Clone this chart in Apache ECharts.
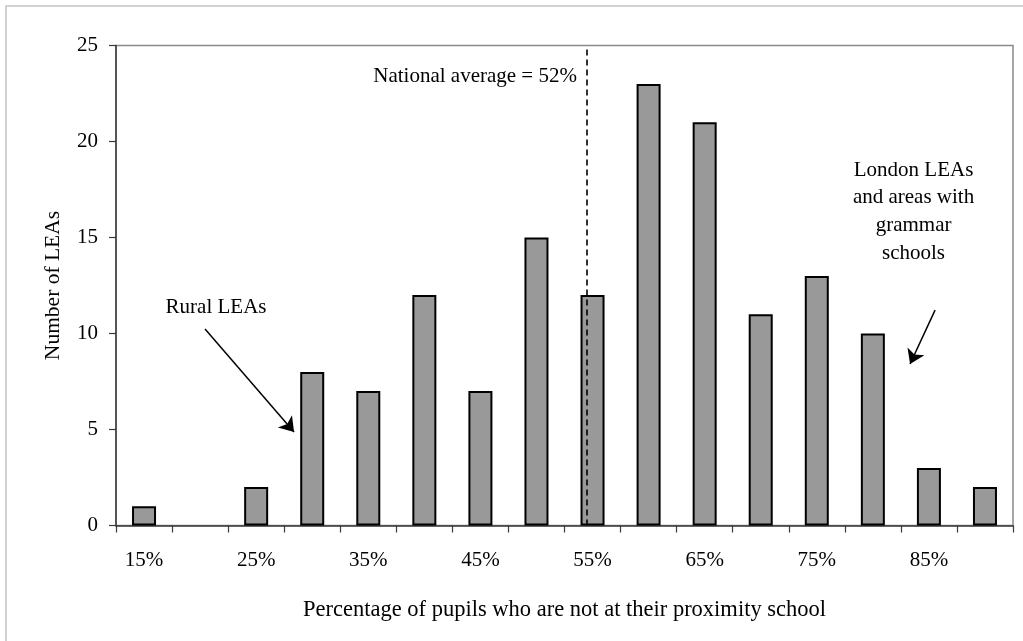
<!DOCTYPE html>
<html>
<head>
<meta charset="utf-8">
<script src="https://cdn.jsdelivr.net/npm/echarts@6/dist/echarts.min.js"></script>
<style>
  html, body { margin: 0; padding: 0; background: #fff; }
  #chart { width: 1023px; height: 641px; }
</style>
</head>
<body>
<div id="chart"></div>
<script>
// Bins of the share of pupils not at their proximity school (upper edge of each 5% bin)
const categories = ['15%', '20%', '25%', '30%', '35%', '40%', '45%', '50%',
                    '55%', '60%', '65%', '70%', '75%', '80%', '85%', '90%'];
// Number of LEAs in each bin
const leaCounts = [1, 0, 2, 8, 7, 12, 7, 15, 12, 23, 21, 11, 13, 10, 3, 2];
// Y-axis ticks
const yTicks = { min: 0, max: 25, step: 5 };
// Bin edges in percent (first bin starts at 10%, last ends at 90%)
const binEdges = { min: 10, max: 90 };
// National average, percent
const nationalAverage = 52;

const FONT = '"Liberation Serif", "Times New Roman", serif';

// Empty bins get no outline so nothing is drawn on the baseline
const barData = leaCounts.map(v => v === 0
  ? { value: v, itemStyle: { borderWidth: 0 } }
  : v);

const chart = echarts.init(document.getElementById('chart'), null, { renderer: 'canvas' });

chart.setOption({
  animation: false,
  backgroundColor: '#ffffff',
  textStyle: { fontFamily: FONT, color: '#000' },
  graphic: [{
    type: 'rect',
    shape: { x: 6, y: 6, width: 1040, height: 660 },
    style: { fill: 'none', stroke: '#c4c4c4', lineWidth: 1.5 },
    silent: true,
    z: -10
  }],
  grid: {
    left: 116, right: 10, top: 45.5, bottom: 115.5,
    show: true, borderColor: '#8a8a8a', borderWidth: 1.5, backgroundColor: 'transparent'
  },
  xAxis: [{
    type: 'category',
    data: categories,
    boundaryGap: true,
    name: 'Percentage of pupils who are not at their proximity school',
    nameLocation: 'middle',
    nameGap: 73,
    nameTextStyle: { fontFamily: FONT, fontSize: 22.5, color: '#000' },
    axisLine: { lineStyle: { color: '#3a3a3a', width: 1.5 } },
    axisTick: { show: true, interval: 0, length: 7, lineStyle: { color: '#3a3a3a', width: 1.2 } },
    axisLabel: { interval: 1, margin: 24, fontFamily: FONT, fontSize: 21, color: '#000' },
    splitLine: { show: false }
  }, {
    type: 'value',
    min: binEdges.min,
    max: binEdges.max,
    show: false
  }],
  yAxis: {
    type: 'value',
    min: yTicks.min,
    max: yTicks.max,
    interval: yTicks.step,
    name: 'Number of LEAs',
    nameLocation: 'middle',
    nameGap: 52,
    nameTextStyle: { fontFamily: FONT, fontSize: 21.5, color: '#000' },
    axisLine: { show: true, lineStyle: { color: '#3a3a3a', width: 1.5 } },
    axisTick: { show: true, length: 7, lineStyle: { color: '#3a3a3a', width: 1.2 } },
    axisLabel: { margin: 18, fontFamily: FONT, fontSize: 21, color: '#000' },
    splitLine: { show: false }
  },
  series: [{
    type: 'bar',
    data: barData,
    xAxisIndex: 0,
    barWidth: 24,
    itemStyle: { color: '#999999', borderColor: '#000', borderWidth: 2 },
    z: 2
  }, {
    // Annotation layer on the continuous percent scale
    type: 'line',
    xAxisIndex: 1,
    yAxisIndex: 0,
    data: [],
    silent: true,
    markLine: {
      silent: true,
      animation: false,
      symbol: 'none',
      label: { show: false },
      data: [
        { xAxis: nationalAverage, lineStyle: { type: [6, 4], color: '#000', width: 1.6 } },
        [
          { coord: [17.94, 10.23], symbol: 'none' },
          { coord: [25.88, 4.87], symbol: 'arrow', symbolSize: 14 }
        ],
        [
          { coord: [83.05, 11.22], symbol: 'none' },
          { coord: [80.82, 8.41], symbol: 'arrow', symbolSize: 14 }
        ]
      ],
      lineStyle: { type: 'solid', color: '#000', width: 1.5 },
      z: 5
    },
    markPoint: {
      silent: true,
      animation: false,
      symbol: 'circle',
      symbolSize: 0,
      itemStyle: { color: 'transparent' },
      data: [
        {
          coord: [nationalAverage, 23.41],
          label: { show: true, position: 'left', distance: 10,
                   formatter: 'National average = ' + nationalAverage + '%',
                   fontFamily: FONT, fontSize: 21, color: '#000' }
        },
        {
          coord: [18.92, 11.33],
          label: { show: true, position: 'inside', formatter: 'Rural LEAs',
                   fontFamily: FONT, fontSize: 21, color: '#000' }
        },
        {
          coord: [81.13, 16.35],
          label: { show: true, position: 'inside', align: 'center', lineHeight: 27.7,
                   formatter: 'London LEAs\nand areas with\ngrammar\nschools',
                   fontFamily: FONT, fontSize: 21, color: '#000' }
        }
      ]
    }
  }]
});
</script>
</body>
</html>
